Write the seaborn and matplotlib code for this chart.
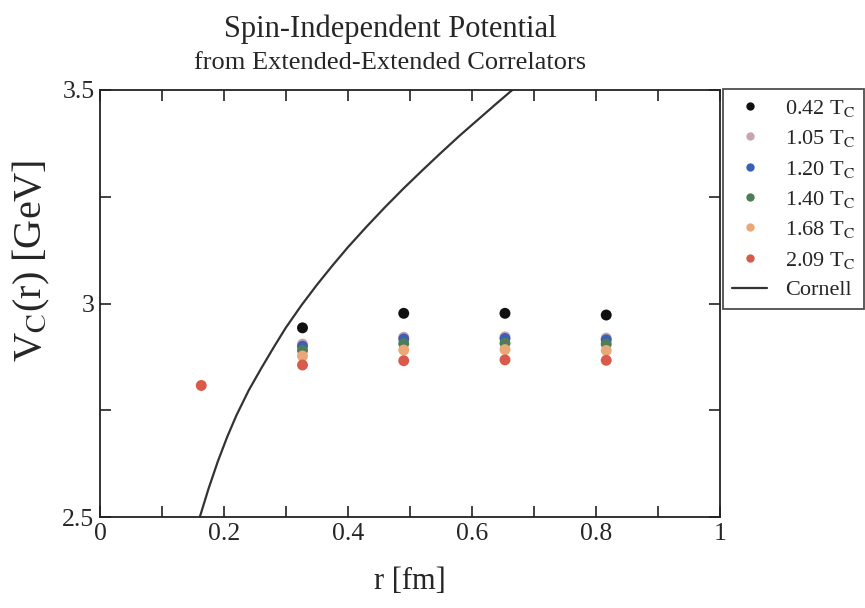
import numpy as np
import pandas as pd
import matplotlib
matplotlib.use("Agg")
import matplotlib.pyplot as plt
import seaborn as sns
from matplotlib.ticker import MultipleLocator, FormatStrFormatter
from matplotlib.lines import Line2D

# ---- data ----
r_fm = [0.1633, 0.3266, 0.4899, 0.6532, 0.8165]
temps = ["0.42", "1.05", "1.20", "1.40", "1.68", "2.09"]
v_042 = [np.nan, 2.943, 2.977, 2.977, 2.973]
v_105 = [np.nan, 2.905, 2.921, 2.922, 2.919]
v_120 = [np.nan, 2.900, 2.917, 2.918, 2.915]
v_140 = [np.nan, 2.890, 2.906, 2.907, 2.905]
v_168 = [np.nan, 2.877, 2.891, 2.892, 2.890]
v_209 = [2.808, 2.856, 2.866, 2.868, 2.867]

cornell_r = [0.161, 0.175, 0.19, 0.205, 0.22, 0.24, 0.26, 0.28, 0.30, 0.325, 0.35,
             0.375, 0.40, 0.43, 0.46, 0.49, 0.52, 0.55, 0.58, 0.61, 0.64, 0.665]
cornell_v = [2.500, 2.566, 2.630, 2.687, 2.738, 2.797, 2.848, 2.897, 2.944, 2.996, 3.044,
             3.089, 3.132, 3.180, 3.226, 3.270, 3.312, 3.353, 3.393, 3.431, 3.469, 3.500]

colors = ["#111111", "#c9a3b3", "#3c5fb3", "#4e7d57", "#eaa878", "#d95a4a"]

series = [v_042, v_105, v_120, v_140, v_168, v_209]
rows = []
for t, vals in zip(temps, series):
    for r, v in zip(r_fm, vals):
        if not np.isnan(v):
            rows.append({"r": r, "V": v, "T": t})
df = pd.DataFrame(rows)
cdf = pd.DataFrame({"r": cornell_r, "V": cornell_v})

sns.set_style("ticks")
plt.rcParams["font.family"] = ["Liberation Serif", "DejaVu Serif"]
plt.rcParams["mathtext.fontset"] = "stix"

W, H = 865, 608
fig = plt.figure(figsize=(W / 100, H / 100), dpi=100)
ax = fig.add_axes([100 / W, 1 - 517 / H, 620 / W, 427 / H])

sns.lineplot(data=cdf, x="r", y="V", ax=ax, color="#333333", lw=1.6, sort=False)
sns.scatterplot(data=df, x="r", y="V", hue="T", hue_order=temps, palette=colors,
                s=62, edgecolor="none", ax=ax, legend=False, zorder=3)

ax.set_xlim(0, 1)
ax.set_ylim(2.5, 3.5)
ax.xaxis.set_major_locator(MultipleLocator(0.2))
ax.xaxis.set_minor_locator(MultipleLocator(0.1))
ax.yaxis.set_major_locator(MultipleLocator(0.5))
ax.yaxis.set_minor_locator(MultipleLocator(0.25))
ax.xaxis.set_major_formatter(FormatStrFormatter("%g"))
ax.yaxis.set_major_formatter(FormatStrFormatter("%g"))
ax.tick_params(which="both", direction="in", top=True, right=True, labelsize=18.5,
               width=1.2, color="#222222")
ax.tick_params(which="major", length=8, pad=4)
ax.tick_params(which="minor", length=8)
for s in ax.spines.values():
    s.set_linewidth(1.3)
    s.set_color("#222222")

ax.set_xlabel("r [fm]", fontsize=22)
ax.xaxis.set_label_coords(0.5, -0.118)
ax.set_ylabel(r"V$_\mathrm{C}$(r) [GeV]", fontsize=29)
ax.yaxis.set_label_coords(-0.078, 0.6)

fig.text(390 / W, 1 - 29 / H, "Spin-Independent Potential", ha="center", va="center",
         fontsize=22)
fig.text(390 / W, 1 - 63 / H, "from Extended-Extended Correlators", ha="center",
         va="center", fontsize=19)

handles = [Line2D([], [], ls="none", marker="o", ms=6, color=c, mec="none") for c in colors]
labels = [t + r" T$_\mathrm{C}$" for t in temps]
handles.append(Line2D([], [], color="#333333", lw=1.6))
labels.append("Cornell")
leg = fig.legend(handles, labels, loc="upper left", bbox_to_anchor=(723 / W, 1 - 89 / H),
                 frameon=True, fancybox=False, edgecolor="#222222", fontsize=16,
                 handlelength=1.6, handletextpad=0.8, labelspacing=0.42,
                 borderpad=0.4, borderaxespad=0)
leg.get_frame().set_linewidth(1.3)

fig.savefig("out.png", dpi=100)
